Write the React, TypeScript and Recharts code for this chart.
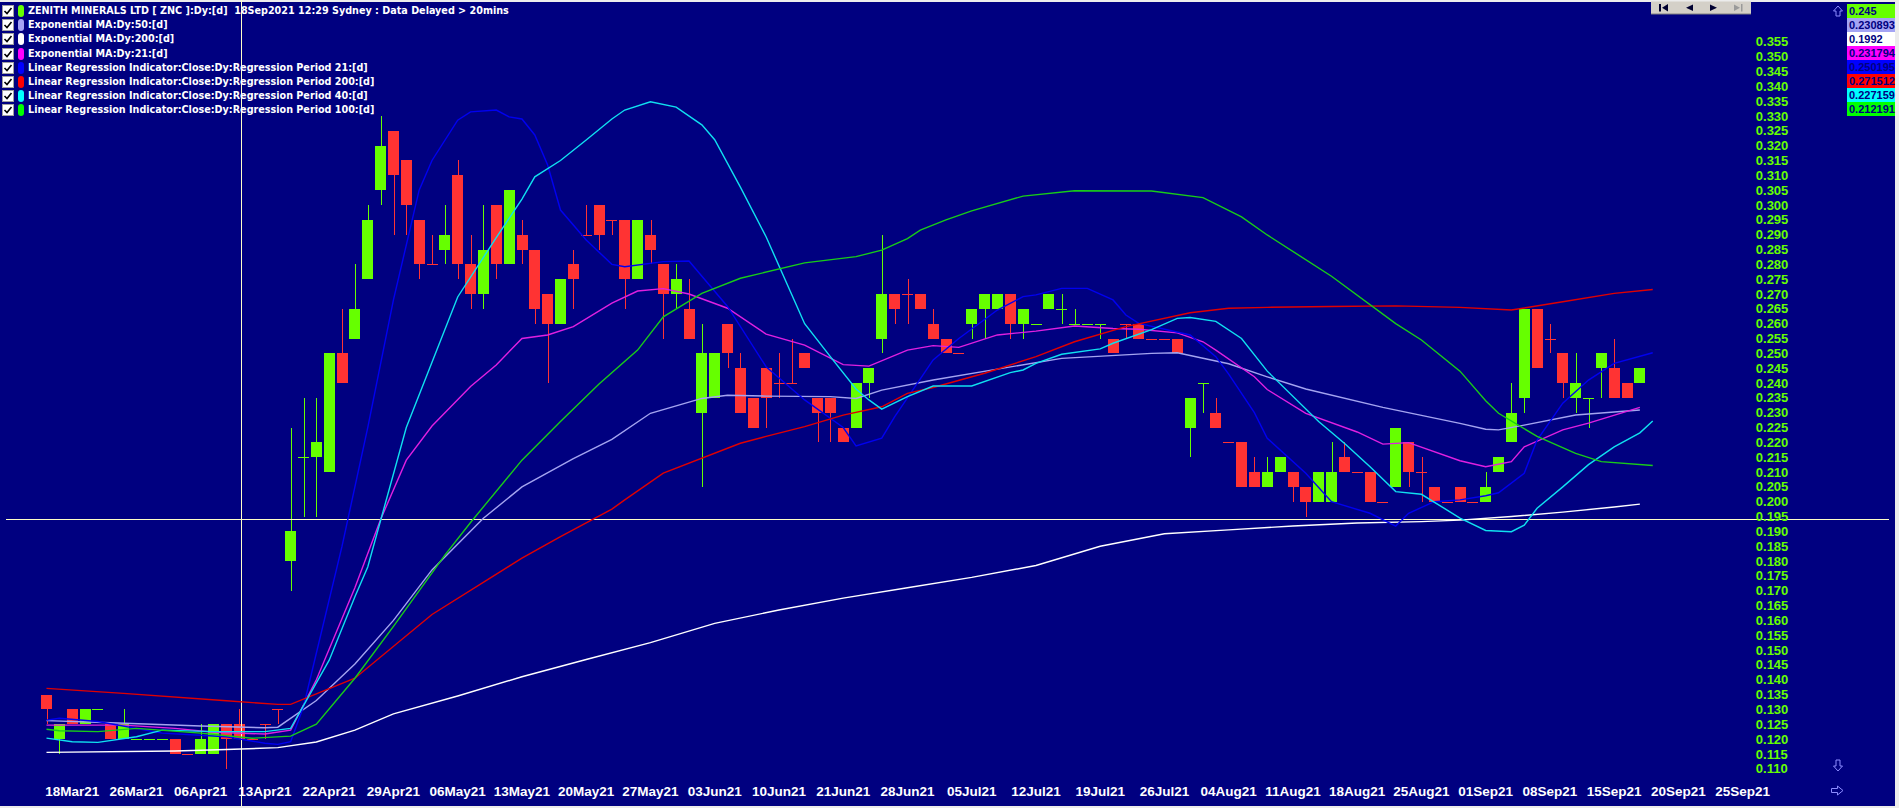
import React from "react";
import { ComposedChart, Bar, Line, XAxis, YAxis, ReferenceLine } from "recharts";

// open, high, low, close per trading day (16 Mar 21 .. 17 Sep 21)
const ohlc: [number, number, number, number][] = [
  [0.135, 0.135, 0.125, 0.13], [0.12, 0.125, 0.115, 0.125], [0.13, 0.13, 0.125, 0.125], [0.125, 0.13, 0.125, 0.13],
  [0.13, 0.13, 0.13, 0.13], [0.125, 0.125, 0.12, 0.12], [0.12, 0.13, 0.12, 0.125], [0.12, 0.12, 0.12, 0.12],
  [0.12, 0.12, 0.12, 0.12], [0.12, 0.12, 0.12, 0.12], [0.12, 0.12, 0.115, 0.115], [0.115, 0.115, 0.115, 0.115],
  [0.115, 0.125, 0.115, 0.12], [0.115, 0.125, 0.115, 0.125], [0.125, 0.125, 0.11, 0.12], [0.125, 0.13, 0.12, 0.12],
  [0.12, 0.12, 0.12, 0.12], [0.125, 0.125, 0.12, 0.125], [0.13, 0.13, 0.125, 0.13], [0.18, 0.225, 0.17, 0.19],
  [0.215, 0.235, 0.195, 0.215], [0.215, 0.235, 0.195, 0.22], [0.21, 0.25, 0.21, 0.25], [0.25, 0.265, 0.24, 0.24],
  [0.255, 0.28, 0.255, 0.265], [0.275, 0.3, 0.275, 0.295], [0.305, 0.33, 0.3, 0.32], [0.325, 0.325, 0.29, 0.31],
  [0.315, 0.315, 0.29, 0.3], [0.295, 0.295, 0.275, 0.28], [0.28, 0.29, 0.28, 0.28], [0.285, 0.3, 0.28, 0.29],
  [0.31, 0.315, 0.275, 0.28], [0.28, 0.29, 0.265, 0.27], [0.27, 0.3, 0.265, 0.285], [0.3, 0.3, 0.275, 0.28],
  [0.28, 0.305, 0.28, 0.305], [0.29, 0.295, 0.28, 0.285], [0.285, 0.285, 0.26, 0.265], [0.27, 0.27, 0.24, 0.26],
  [0.26, 0.275, 0.26, 0.275], [0.28, 0.285, 0.265, 0.275], [0.29, 0.3, 0.29, 0.29], [0.3, 0.3, 0.285, 0.29],
  [0.295, 0.295, 0.29, 0.295], [0.295, 0.295, 0.265, 0.275], [0.275, 0.295, 0.275, 0.295], [0.29, 0.295, 0.28, 0.285],
  [0.28, 0.28, 0.255, 0.27], [0.27, 0.28, 0.265, 0.275], [0.265, 0.275, 0.255, 0.255], [0.23, 0.26, 0.205, 0.25],
  [0.235, 0.25, 0.235, 0.25], [0.26, 0.26, 0.245, 0.25], [0.245, 0.25, 0.23, 0.23], [0.235, 0.235, 0.225, 0.225],
  [0.245, 0.245, 0.225, 0.235], [0.24, 0.25, 0.235, 0.24], [0.24, 0.255, 0.24, 0.24], [0.25, 0.25, 0.245, 0.245],
  [0.235, 0.235, 0.22, 0.23], [0.235, 0.235, 0.22, 0.23], [0.225, 0.225, 0.22, 0.22], [0.225, 0.24, 0.225, 0.24],
  [0.24, 0.245, 0.235, 0.245], [0.255, 0.29, 0.25, 0.27], [0.27, 0.27, 0.26, 0.265], [0.27, 0.275, 0.26, 0.27],
  [0.27, 0.27, 0.265, 0.265], [0.26, 0.265, 0.255, 0.255], [0.255, 0.255, 0.25, 0.25], [0.25, 0.25, 0.25, 0.25],
  [0.26, 0.265, 0.255, 0.265], [0.265, 0.27, 0.255, 0.27], [0.265, 0.27, 0.265, 0.27], [0.27, 0.27, 0.255, 0.26],
  [0.26, 0.265, 0.255, 0.265], [0.26, 0.26, 0.26, 0.26], [0.265, 0.27, 0.265, 0.27], [0.265, 0.27, 0.26, 0.265],
  [0.26, 0.265, 0.26, 0.26], [0.26, 0.26, 0.26, 0.26], [0.26, 0.26, 0.255, 0.26], [0.255, 0.255, 0.25, 0.25],
  [0.26, 0.26, 0.255, 0.26], [0.26, 0.26, 0.255, 0.255], [0.255, 0.255, 0.255, 0.255], [0.255, 0.255, 0.255, 0.255],
  [0.255, 0.255, 0.25, 0.25], [0.225, 0.235, 0.215, 0.235], [0.24, 0.24, 0.23, 0.24], [0.23, 0.235, 0.225, 0.225],
  [0.22, 0.22, 0.22, 0.22], [0.22, 0.22, 0.205, 0.205], [0.21, 0.215, 0.205, 0.205], [0.205, 0.215, 0.205, 0.21],
  [0.21, 0.215, 0.21, 0.215], [0.21, 0.21, 0.2, 0.205], [0.205, 0.205, 0.195, 0.2], [0.2, 0.21, 0.2, 0.21],
  [0.2, 0.22, 0.2, 0.21], [0.215, 0.22, 0.21, 0.21], [0.21, 0.21, 0.21, 0.21], [0.21, 0.21, 0.2, 0.2],
  [0.2, 0.2, 0.2, 0.2], [0.205, 0.225, 0.205, 0.225], [0.22, 0.22, 0.205, 0.21], [0.21, 0.215, 0.2, 0.21],
  [0.205, 0.205, 0.2, 0.2], [0.2, 0.2, 0.2, 0.2], [0.205, 0.205, 0.2, 0.2], [0.2, 0.2, 0.2, 0.2],
  [0.2, 0.21, 0.2, 0.205], [0.21, 0.215, 0.21, 0.215], [0.22, 0.24, 0.22, 0.23], [0.235, 0.265, 0.23, 0.265],
  [0.265, 0.265, 0.245, 0.245], [0.255, 0.26, 0.25, 0.255], [0.25, 0.25, 0.235, 0.24], [0.235, 0.25, 0.23, 0.24],
  [0.235, 0.235, 0.225, 0.235], [0.245, 0.25, 0.235, 0.25], [0.245, 0.255, 0.235, 0.235], [0.24, 0.24, 0.235, 0.235],
  [0.24, 0.245, 0.24, 0.245],
];

// indicator readings: [bar index, value]
const ema50: [number, number][] = [
  [0, 0.1262], [5, 0.1255], [12, 0.1244], [17, 0.1238], [18, 0.124], [21, 0.133], [24, 0.1453], [27, 0.16],
  [30, 0.177], [34, 0.1944], [37, 0.205], [41, 0.2145], [44, 0.221], [47, 0.2298], [51, 0.2348], [53, 0.2359],
  [56, 0.2356], [61, 0.2354], [63, 0.2348], [65, 0.2376], [69, 0.241], [74, 0.2447], [79, 0.2483], [86, 0.25],
  [88, 0.2502], [92, 0.2465], [95, 0.2421], [98, 0.238], [104, 0.2318], [110, 0.2264], [112, 0.2244],
  [113, 0.2242], [115, 0.2258], [119, 0.2292], [124, 0.2309],
];
const ema200: [number, number][] = [
  [0, 0.1155], [10, 0.116], [14, 0.1165], [18, 0.1171], [21, 0.119], [24, 0.123], [27, 0.1285], [32, 0.1345],
  [37, 0.141], [42, 0.1468], [47, 0.1525], [52, 0.159], [57, 0.1635], [62, 0.1675], [67, 0.171], [72, 0.1745],
  [77, 0.1785], [82, 0.185], [87, 0.1892], [92, 0.1905], [97, 0.1918], [102, 0.1928], [107, 0.1933],
  [110, 0.1938], [114, 0.195], [118, 0.1965], [122, 0.1982], [124, 0.1992],
];
const ema21: [number, number][] = [
  [0, 0.1247], [6, 0.1247], [10, 0.1236], [13, 0.1223], [17, 0.1217], [19, 0.123], [21, 0.14], [24, 0.171],
  [26, 0.194], [28, 0.214], [30, 0.2255], [33, 0.2388], [35, 0.2461], [37, 0.255], [39, 0.2562], [41, 0.259],
  [44, 0.2669], [46, 0.271], [48, 0.2718], [50, 0.27], [53, 0.2652], [56, 0.2565], [59, 0.2528], [62, 0.2462],
  [64, 0.2457], [67, 0.2511], [69, 0.2526], [71, 0.252], [74, 0.2562], [77, 0.2575], [80, 0.2592], [83, 0.2584],
  [85, 0.2581], [88, 0.2569], [90, 0.2539], [91, 0.2511], [94, 0.2421], [95, 0.2378], [98, 0.2298], [102, 0.2235],
  [104, 0.2194], [106, 0.2199], [110, 0.2138], [112, 0.2118], [114, 0.2135], [115, 0.2185], [118, 0.2242],
  [120, 0.2265], [124, 0.2318],
];
const lr21: [number, number][] = [
  [0, 0.1264], [1, 0.127], [4, 0.1259], [9, 0.122], [14, 0.1208], [17, 0.1186], [18, 0.1182], [19, 0.1191],
  [20, 0.1309], [23, 0.185], [25, 0.225], [27, 0.268], [29, 0.305], [30, 0.315], [32, 0.3286], [33, 0.3314],
  [35, 0.332], [36, 0.3297], [37, 0.329], [38, 0.3236], [39, 0.3135], [40, 0.2983], [42, 0.2882], [44, 0.28],
  [45, 0.2792], [48, 0.2809], [50, 0.2811], [53, 0.2658], [56, 0.2455], [59, 0.2343], [62, 0.225], [63, 0.2188],
  [65, 0.2214], [66, 0.2286], [69, 0.2478], [71, 0.255], [74, 0.2646], [76, 0.2691], [77, 0.2697], [79, 0.2719],
  [81, 0.2719], [83, 0.268], [84, 0.2629], [85, 0.2601], [89, 0.2562], [91, 0.2489], [92, 0.243], [94, 0.23],
  [95, 0.2214], [98, 0.2096], [100, 0.2], [103, 0.1961], [105, 0.1918], [106, 0.1961], [108, 0.2], [110, 0.2006],
  [112, 0.202], [113, 0.203], [115, 0.2096], [116, 0.2208], [118, 0.2332], [120, 0.241], [122, 0.2466], [125, 0.2502],
];
const lr200: [number, number][] = [
  [0, 0.1371], [6, 0.1354], [14, 0.1329], [18, 0.1317], [19, 0.1317], [24, 0.1405], [30, 0.162], [37, 0.181],
  [40, 0.1882], [44, 0.1975], [45, 0.2006], [48, 0.2096], [54, 0.2197], [56, 0.222], [59, 0.2253], [62, 0.2292],
  [65, 0.232], [67, 0.2365], [69, 0.2385], [73, 0.2433], [77, 0.2489], [80, 0.2539], [84, 0.259], [89, 0.2637],
  [92, 0.2652], [95, 0.2655], [100, 0.2658], [105, 0.266], [110, 0.2655], [114, 0.2646], [118, 0.2674],
  [122, 0.2702], [125, 0.2715],
];
const lr40: [number, number][] = [
  [0, 0.1203], [2, 0.1191], [4, 0.1189], [7, 0.1208], [9, 0.123], [13, 0.1225], [17, 0.1225], [19, 0.1236],
  [22, 0.1466], [24, 0.168], [25, 0.178], [28, 0.225], [30, 0.247], [32, 0.269], [35, 0.289], [37, 0.302],
  [38, 0.3095], [40, 0.315], [42, 0.3219], [44, 0.329], [45, 0.332], [47, 0.3348], [49, 0.333], [51, 0.327],
  [52, 0.322], [54, 0.306], [56, 0.2893], [59, 0.26], [61, 0.2489], [63, 0.238], [64, 0.2343], [65, 0.2312],
  [67, 0.2354], [69, 0.239], [72, 0.239], [75, 0.2435], [76, 0.2444], [77, 0.2466], [79, 0.2497], [82, 0.2515],
  [83, 0.2534], [86, 0.258], [88, 0.2618], [89, 0.2621], [91, 0.2608], [93, 0.255], [95, 0.244], [99, 0.227],
  [101, 0.2197], [103, 0.2118], [105, 0.2034], [107, 0.2025], [110, 0.1945], [112, 0.1903], [114, 0.1899],
  [115, 0.1921], [116, 0.1978], [118, 0.205], [120, 0.2125], [122, 0.2185], [124, 0.2232], [125, 0.2272],
];
const lr100: [number, number][] = [
  [0, 0.1233], [1, 0.1228], [4, 0.1225], [7, 0.1236], [12, 0.122], [16, 0.1203], [19, 0.121], [21, 0.125],
  [24, 0.1405], [27, 0.158], [31, 0.182], [33, 0.193], [37, 0.214], [40, 0.227], [43, 0.2397], [46, 0.2511],
  [48, 0.2623], [51, 0.2702], [54, 0.2753], [59, 0.2805], [63, 0.2826], [65, 0.2848], [67, 0.2887], [68, 0.2915],
  [70, 0.295], [72, 0.298], [76, 0.303], [80, 0.3048], [86, 0.3047], [90, 0.3025], [93, 0.296], [95, 0.2899],
  [100, 0.276], [105, 0.26], [107, 0.2545], [110, 0.244], [112, 0.234], [113, 0.2298], [116, 0.222],
  [119, 0.2163], [121, 0.2135], [125, 0.2122],
];

const xLabels = [
  "18Mar21", "26Mar21", "06Apr21", "13Apr21", "22Apr21", "29Apr21", "06May21", "13May21", "20May21",
  "27May21", "03Jun21", "10Jun21", "21Jun21", "28Jun21", "05Jul21", "12Jul21", "19Jul21", "26Jul21",
  "04Aug21", "11Aug21", "18Aug21", "25Aug21", "01Sep21", "08Sep21", "15Sep21", "20Sep21", "25Sep21",
];
const xLabelIdx = [2, 7, 12, 17, 22, 27, 32, 37, 42, 47, 52, 57, 62, 67, 72, 77, 82, 87, 92, 97, 102, 107, 112, 117, 122, 127, 132];

const yTicks = [
  0.11, 0.115, 0.12, 0.125, 0.13, 0.135, 0.14, 0.145, 0.15, 0.155, 0.16, 0.165, 0.17, 0.175, 0.18, 0.185,
  0.19, 0.195, 0.2, 0.205, 0.21, 0.215, 0.22, 0.225, 0.23, 0.235, 0.24, 0.245, 0.25, 0.255, 0.26, 0.265,
  0.27, 0.275, 0.28, 0.285, 0.29, 0.295, 0.3, 0.305, 0.31, 0.315, 0.32, 0.325, 0.33, 0.335, 0.34, 0.345,
  0.35, 0.355,
];

const titleText = "ZENITH MINERALS LTD [ ZNC ]:Dy:[d]  18Sep2021 12:29 Sydney : Data Delayed > 20mins";
const lastClose = "0.245";
const crossPrice = 0.1942;
const crossBar = 15;
const slotCount = 135;

const Y_MIN = 0.10789;
const Y_MAX = 0.36909;
const GREEN = "#66ff00";
const RED = "#ff3333";
const NAVY = "#000080";
const NARROW = "'Liberation Sans Narrow', 'Arial Narrow', 'Liberation Sans', sans-serif";
const SANS = "'Liberation Sans', Arial, sans-serif";
const LEGEND_FONT = "'DejaVu Sans Condensed', 'DejaVu Sans', sans-serif";

const series = [
  { key: "ema50", name: "Exponential MA:Dy:50:[d]", color: "#a4a4f4", last: "0.230893", pts: ema50 },
  { key: "ema200", name: "Exponential MA:Dy:200:[d]", color: "#ffffff", last: "0.1992", pts: ema200 },
  { key: "ema21", name: "Exponential MA:Dy:21:[d]", color: "#ff00ff", last: "0.231794", pts: ema21 },
  { key: "lr21", name: "Linear Regression Indicator:Close:Dy:Regression Period 21:[d]", color: "#0000ff", last: "0.250195", pts: lr21 },
  { key: "lr200", name: "Linear Regression Indicator:Close:Dy:Regression Period 200:[d]", color: "#ff0000", last: "0.271512", pts: lr200 },
  { key: "lr40", name: "Linear Regression Indicator:Close:Dy:Regression Period 40:[d]", color: "#00ffff", last: "0.227159", pts: lr40 },
  { key: "lr100", name: "Linear Regression Indicator:Close:Dy:Regression Period 100:[d]", color: "#00ff00", last: "0.212191", pts: lr100 },
];

const lineStroke: Record<string, string> = {
  ema50: "#a4a4f0", ema200: "#ffffff", ema21: "#e020e0", lr21: "#0000f0",
  lr200: "#e00000", lr40: "#10e0f0", lr100: "#18cc18",
};

function buildRows() {
  const rows: any[] = [];
  let up = false;
  for (let i = 0; i < slotCount; i++) {
    const row: any = { idx: i };
    const c = ohlc[i];
    if (c) {
      const [o, h, l, cl] = c;
      if (cl > o) up = true;
      else if (cl < o) up = false;
      Object.assign(row, { o, h, l, c: cl, up });
    }
    rows.push(row);
  }
  series.forEach((s) => s.pts.forEach(([i, v]) => (rows[i][s.key] = v)));
  return rows;
}
const rows = buildRows();

function Candle(props: any) {
  const { x, y, width, height, payload } = props;
  if (!payload || payload.o == null) return null;
  const unit = height / (payload.h - Y_MIN);
  const py = (p: number) => y + (payload.h - p) * unit;
  const col = payload.up ? GREEN : RED;
  const cx = Math.round(x + width / 2) + 0.5;
  const left = Math.round(x);
  const w = Math.round(width);
  const top = py(Math.max(payload.o, payload.c));
  const bot = py(Math.min(payload.o, payload.c));
  return (
    <g shapeRendering="crispEdges">
      {payload.h > payload.l && (
        <line x1={cx} x2={cx} y1={py(payload.h)} y2={py(payload.l)} stroke={col} strokeWidth={1} />
      )}
      {payload.o === payload.c ? (
        <line x1={left} x2={left + w} y1={Math.round(top) + 0.5} y2={Math.round(top) + 0.5} stroke={col} strokeWidth={1} />
      ) : (
        <rect x={left} y={top} width={w} height={bot - top} fill={col} />
      )}
    </g>
  );
}

function XTick(props: any) {
  const { x, y, payload } = props;
  const k = xLabelIdx.indexOf(payload.value);
  return (
    <text x={x} y={y} dy={21} textAnchor="middle" fill="#ffffff" fontFamily={NARROW} fontWeight="bold" fontSize={13.5}>
      {k >= 0 ? xLabels[k] : ""}
    </text>
  );
}

function YTick(props: any) {
  const { x, y, payload } = props;
  return (
    <text x={x - 19} y={y} dy={4.6} textAnchor="start" fill={GREEN} fontFamily={NARROW} fontWeight="bold" fontSize={13}>
      {Number(payload.value).toFixed(3)}
    </text>
  );
}

function CheckBox() {
  return (
    <svg width={12} height={12} style={{ position: "absolute", left: 2, top: 1 }}>
      <rect x={0.5} y={0.5} width={11} height={11} fill="#ffffff" stroke="#a0a0a0" />
      <path d="M2.5 6 L5 8.5 L9.5 3" stroke="#000000" strokeWidth={1.6} fill="none" />
    </svg>
  );
}

function LegendRow({ text, color, top }: { text: string; color: string; top: number }) {
  return (
    <div style={{ position: "absolute", left: 0, top, height: 14, width: 700 }}>
      <CheckBox />
      <div style={{ position: "absolute", left: 18, top: 1, width: 6, height: 12, borderRadius: 3, background: color }} />
      <div
        style={{
          position: "absolute", left: 28, top: 0, color: "#ffffff", fontFamily: LEGEND_FONT, fontWeight: "bold",
          fontStretch: "condensed", fontSize: 10.7, lineHeight: "14px", whiteSpace: "pre",
        }}
      >
        {text}
      </div>
    </div>
  );
}

function Overlay() {
  return (
    <svg width={1899} height={808} style={{ position: "absolute", left: 0, top: 0, pointerEvents: "none" }}>
      <rect x={1651} y={1.5} width={100} height={12.5} fill="#d4d0c8" />
      <line x1={1651} y1={14} x2={1751} y2={14} stroke="#808080" />
      <rect x={1659} y={4} width={2} height={7.5} fill="#000030" />
      <path d="M1668 4 L1668 11.5 L1662 7.75 Z" fill="#000030" />
      <path d="M1693 4.5 L1693 11 L1686 7.75 Z" fill="#000030" />
      <path d="M1710 4.5 L1710 11 L1717 7.75 Z" fill="#000030" />
      <path d="M1734 4.5 L1734 11 L1740 7.75 Z" fill="#9a9a9a" />
      <rect x={1741} y={4} width={1.5} height={7.5} fill="#9a9a9a" />
      <path d="M1838 6 L1842.5 11 L1840 11 L1840 16 L1836 16 L1836 11 L1833.5 11 Z" fill="none" stroke="#8c8cff" />
      <path d="M1838 771 L1842.5 766 L1840 766 L1840 760 L1836 760 L1836 766 L1833.5 766 Z" fill="none" stroke="#8c8cff" />
      <path d="M1843 790.5 L1837.5 786 L1837.5 788.5 L1831.5 788.5 L1831.5 792.5 L1837.5 792.5 L1837.5 795 Z" fill="none" stroke="#8c8cff" />
    </svg>
  );
}

export default function App() {
  const legendRows = [{ text: titleText, color: GREEN }, ...series.map((s) => ({ text: s.name, color: s.color }))];
  const valueRows = [{ text: lastClose, color: GREEN }, ...series.map((s) => ({ text: s.last, color: s.color }))];
  return (
    <div style={{ position: "absolute", left: 0, top: 0, width: 1899, height: 808, background: "#ececec", overflow: "hidden" }}>
      <div style={{ position: "absolute", left: 0, top: 1.5, width: 1895, height: 804.5, background: NAVY }} />
      <ComposedChart
        width={1899}
        height={808}
        data={rows}
        margin={{ top: 0, right: 0, bottom: 0, left: 40.075 }}
        style={{ position: "absolute", left: 0, top: 0 }}
      >
        <XAxis
          dataKey="idx"
          type="category"
          ticks={xLabelIdx}
          interval={0}
          height={33}
          tickLine={false}
          axisLine={false}
          tickSize={0}
          tickMargin={0}
          tick={<XTick />}
        />
        <YAxis
          orientation="right"
          type="number"
          domain={[Y_MIN, Y_MAX]}
          allowDataOverflow
          ticks={yTicks}
          interval={0}
          width={124.2}
          tickLine={false}
          axisLine={false}
          tickSize={0}
          tickMargin={0}
          tick={<YTick />}
        />
        <ReferenceLine
          y={crossPrice}
          shape={(p: any) => <line x1={6} x2={1889} y1={Math.round(p.y1) + 0.5} y2={Math.round(p.y1) + 0.5} stroke="#ffffc8" strokeWidth={1} />}
        />
        <ReferenceLine
          x={crossBar}
          shape={(p: any) => <line x1={Math.round(p.x1) + 2.5} x2={Math.round(p.x1) + 2.5} y1={0} y2={806} stroke="#ffffc8" strokeWidth={1} />}
        />
        {series.map((s) => (
          <Line
            key={s.key}
            dataKey={s.key}
            type="linear"
            stroke={lineStroke[s.key]}
            strokeWidth={1.4}
            dot={false}
            activeDot={false}
            connectNulls
            isAnimationActive={false}
          />
        ))}
        <Bar
          dataKey={(d: any) => (d.h == null ? null : [Y_MIN, d.h])}
          barSize={11}
          shape={<Candle />}
          isAnimationActive={false}
        />
      </ComposedChart>
      {legendRows.map((r, i) => (
        <LegendRow key={i} text={r.text} color={r.color} top={4 + i * 14.2} />
      ))}
      {valueRows.map((r, i) => (
        <div
          key={i}
          style={{
            position: "absolute", left: 1847, top: 4 + i * 14, width: 48, height: 14, background: r.color,
            color: NAVY, fontFamily: SANS, fontWeight: "bold", fontSize: 11, lineHeight: "14px", paddingLeft: 2,
            boxSizing: "border-box", whiteSpace: "nowrap",
          }}
        >
          {r.text}
        </div>
      ))}
      <Overlay />
    </div>
  );
}
